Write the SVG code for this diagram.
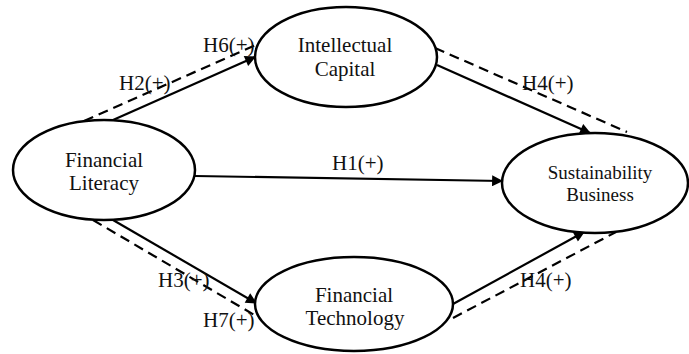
<svg xmlns="http://www.w3.org/2000/svg" width="689" height="354" viewBox="0 0 689 354">
<style>
.node ellipse{fill:#fff;stroke:#000;stroke-width:2.5}
text{font-family:'Liberation Serif','DejaVu Serif',serif;font-size:21px;fill:#111}
.c{text-anchor:middle}
.sm{font-size:19px}
.solid{stroke:#000;stroke-width:2.2;fill:none;marker-end:url(#arr)}
.dash{stroke:#000;stroke-width:2.2;fill:none;stroke-dasharray:10 6}
</style>
<defs>
<marker id="arr" viewBox="0 0 10 10" refX="9" refY="5" markerWidth="5.5" markerHeight="5" orient="auto" markerUnits="strokeWidth">
<path d="M0,0 L10,5 L0,10 z" fill="#000"/>
</marker>
</defs>
<rect width="689" height="354" fill="#fff"/>
<g id="connectors">
<line class="solid" x1="113" y1="120" x2="255" y2="57"/>
<line class="dash" x1="84" y1="121" x2="258" y2="44"/>
<line class="solid" x1="437" y1="65" x2="590" y2="133"/>
<line class="dash" x1="435" y1="48" x2="627" y2="132"/>
<line class="solid" x1="195" y1="176" x2="502" y2="181"/>
<line class="solid" x1="113" y1="220" x2="256" y2="303"/>
<line class="dash" x1="93" y1="220" x2="256" y2="316"/>
<line class="solid" x1="453" y1="304" x2="584" y2="232"/>
<line class="dash" x1="453" y1="318" x2="616" y2="232"/>
</g>
<g id="labels" font-family="Liberation Serif, serif">
<text x="203" y="52">H6(+)</text>
<text x="119" y="90">H2(+)</text>
<text x="522" y="90">H4(+)</text>
<text x="332" y="170">H1(+)</text>
<text x="158" y="287">H3(+)</text>
<text x="203" y="327">H7(+)</text>
<text x="520" y="287">H4(+)</text>
</g>
<g id="financial-literacy" class="node">
<ellipse cx="104" cy="170" rx="91" ry="50"/>
<text class="c" x="104" y="167">Financial</text>
<text class="c" x="104" y="190">Literacy</text>
</g>
<g id="intellectual-capital" class="node">
<ellipse cx="346" cy="57" rx="91" ry="50"/>
<text class="c" x="345" y="52">Intellectual</text>
<text class="c" x="345" y="76">Capital</text>
</g>
<g id="sustainability-business" class="node">
<ellipse cx="595" cy="183" rx="93" ry="50"/>
<text class="c sm" x="600" y="179">Sustainability</text>
<text class="c sm" x="600" y="201">Business</text>
</g>
<g id="financial-technology" class="node">
<ellipse cx="354" cy="304" rx="99" ry="47"/>
<text class="c" x="354" y="302">Financial</text>
<text class="c" x="355" y="325">Technology</text>
</g>
</svg>
